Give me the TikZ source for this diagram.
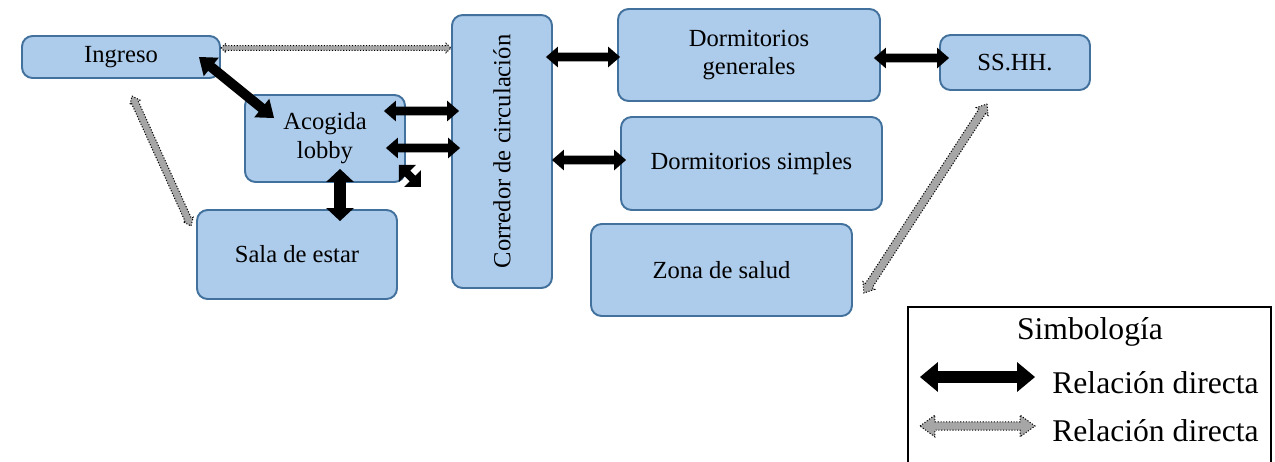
\documentclass[tikz,border=0pt]{standalone}
\usepackage{fontspec}
\setmainfont{Liberation Serif}
\usepackage{graphicx}
\usetikzlibrary{calc}
\definecolor{areafill}{HTML}{ADCBEA}
\definecolor{areaborder}{HTML}{41719C}
\definecolor{relgray}{HTML}{A6A6A6}
\tikzset{
  area/.style={draw=areaborder, fill=areafill, line width=1.1pt, rounded corners=6pt,
               font=\fontsize{14}{16.5}\selectfont, align=center, inner sep=0pt},
  strongrel/.style={fill=black},
  weakrel/.style={fill=relgray, draw=black, densely dotted, line width=0.6pt},
  legendtext/.style={font=\fontsize{18}{21}\selectfont, inner sep=0pt},
}
% block double arrow: style, from, to, shaft half width, head half width, head length
\newcommand{\relarrow}[6]{%
  \coordinate (ra) at ($(#2)!#6!(#3)$);
  \coordinate (rb) at ($(#3)!#6!(#2)$);
  \path[#1] (#2) -- ($(ra)!#5!90:(#3)$) -- ($(ra)!#4!90:(#3)$)
    -- ($(rb)!#4!-90:(#2)$) -- ($(rb)!#5!-90:(#2)$) -- (#3)
    -- ($(rb)!#5!90:(#2)$) -- ($(rb)!#4!90:(#2)$)
    -- ($(ra)!#4!-90:(#3)$) -- ($(ra)!#5!-90:(#3)$) -- cycle;
}

\begin{document}
\begin{tikzpicture}[x=0.02cm, y=-0.02cm]
  \useasboundingbox (0,0) rectangle (1275,461);
  % areas
  \node[area, minimum width=3.96cm, minimum height=0.84cm] (ingreso) at (121,57) {Ingreso};
  \node[area, minimum width=3.2cm, minimum height=1.74cm] (acogida) at (325,138.5) {Acogida\\lobby};
  \node[area, minimum width=4cm, minimum height=1.78cm] (sala) at (297,254.5) {Sala de estar};
  \node[area, minimum width=2cm, minimum height=5.46cm] (corredor) at (502,151.5) {\rotatebox{90}{Corredor de circulación}};
  \node[area, minimum width=5.24cm, minimum height=1.84cm] (dormgen) at (749,55) {Dormitorios\\generales};
  \node[area, minimum width=3cm, minimum height=1.1cm] (sshh) at (1015,62.5) {SS.HH.};
  \node[area, minimum width=5.22cm, minimum height=1.86cm] (dormsim) at (751.5,163.5) {Dormitorios simples};
  \node[area, minimum width=5.22cm, minimum height=1.84cm] (salud) at (721.5,270) {Zona de salud};

  % arrow ends
  \coordinate (ing1) at ($(ingreso.east)+(-22,0)$);
  \coordinate (aco1) at ($(acogida.west)+(30,-20.5)$);
  \coordinate (aco2) at ($(acogida.east)+(-22,-27.5)$);
  \coordinate (cor2) at ($(corredor.west)+(8,-40.5)$);
  \coordinate (aco3) at ($(acogida.east)+(-20,9.5)$);
  \coordinate (cor3) at ($(corredor.west)+(9,-3.5)$);
  \coordinate (aco4) at ($(acogida.south east)+(-7,-18)$);
  \coordinate (cor4) at ($(acogida.south east)+(15,4)$);
  \coordinate (aco5) at ($(acogida.south)+(15,-14)$);
  \coordinate (sal5) at ($(sala.north)+(43,12)$);
  \coordinate (cor6) at ($(corredor.east)+(-7,-94.5)$);
  \coordinate (dge6) at ($(dormgen.west)+(3,2)$);
  \coordinate (cor7) at ($(corredor.east)+(-1,8.5)$);
  \coordinate (dsi7) at ($(dormsim.west)+(6,-3.5)$);
  \coordinate (dge8) at ($(dormgen.east)+(-7,3)$);
  \coordinate (ssh8) at ($(sshh.west)+(10,-4.5)$);
  \coordinate (ing9) at ($(ingreso.east)+(0,-9)$);
  \coordinate (cor9) at ($(corredor.west)+(0,-103.5)$);
  \coordinate (ing10) at ($(ingreso.south)+(11,17)$);
  \coordinate (sal10) at ($(sala.west)+(-5,-28.5)$);
  \coordinate (ssh11) at ($(sshh.south)+(-28,13)$);
  \coordinate (sal11) at ($(salud.east)+(11,23)$);

  % direct relations
  \relarrow{strongrel}{ing1}{aco1}{2.8pt}{6.8pt}{9pt}
  \relarrow{strongrel}{aco2}{cor2}{2.5pt}{5.9pt}{6.8pt}
  \relarrow{strongrel}{aco3}{cor3}{2.5pt}{5.9pt}{6.8pt}
  \relarrow{strongrel}{aco4}{cor4}{2.3pt}{6.8pt}{6.8pt}
  \relarrow{strongrel}{aco5}{sal5}{3.4pt}{7.9pt}{7.4pt}
  \relarrow{strongrel}{cor6}{dge6}{2.5pt}{5.9pt}{6.8pt}
  \relarrow{strongrel}{cor7}{dsi7}{2.5pt}{5.9pt}{6.8pt}
  \relarrow{strongrel}{dge8}{ssh8}{2.5pt}{5.9pt}{6.8pt}
  % dotted relations
  \relarrow{weakrel}{ing9}{cor9}{1.4pt}{2.6pt}{2.8pt}
  \relarrow{weakrel}{ing10}{sal10}{2pt}{3.1pt}{4pt}
  \relarrow{weakrel}{ssh11}{sal11}{2.3pt}{4pt}{5.1pt}

  % legend
  \draw[line width=1.1pt] (908,470) -- (908,307) -- (1271,307) -- (1271,470);
  \node[legendtext] (simbologia) at (1090,332) {Simbología};
  \node[legendtext, anchor=west] (reldirecta) at (1052,383) {Relación directa};
  \node[legendtext, anchor=west] (relindirecta) at (1052,431) {Relación directa};
  \coordinate (leg1a) at ($(reldirecta.west)+(-132,-6)$);
  \coordinate (leg1b) at ($(reldirecta.west)+(-17,-6)$);
  \coordinate (leg2a) at ($(relindirecta.west)+(-132,-5)$);
  \coordinate (leg2b) at ($(relindirecta.west)+(-17,-5)$);
  \relarrow{strongrel}{leg1a}{leg1b}{3.4pt}{8.5pt}{10.2pt}
  \relarrow{weakrel}{leg2a}{leg2b}{2.3pt}{6.2pt}{8.5pt}
\end{tikzpicture}
\end{document}
